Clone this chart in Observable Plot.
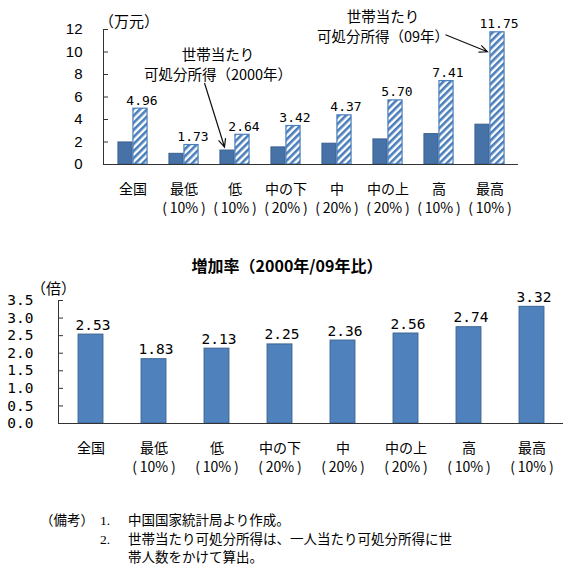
<!DOCTYPE html>
<html>
<head>
<meta charset="utf-8">
<script src="https://cdn.jsdelivr.net/npm/d3@7"></script>
<script src="https://cdn.jsdelivr.net/npm/@observablehq/plot@0.6"></script>
<style>
  body { margin: 0; background: #fff; font-family: "Noto Sans CJK JP", sans-serif; color: #000; }
  #page { position: relative; width: 574px; height: 575px; overflow: hidden; background: #fff; }
  .abs { position: absolute; white-space: nowrap; }
  .title { left: 0; width: 574px; text-align: center; font-size: 16px; font-weight: bold; line-height: 20px; }
  .unit { font-size: 15px; line-height: 18px; }
  .note { font-family: "Liberation Serif", "Noto Sans CJK JP", serif; font-size: 13.5px; line-height: 18px; }
</style>
</head>
<body>
<div id="page"></div>
<script>
// Income groups (quantile groups of urban households)
const categories = ["全国", "最低", "低", "中の下", "中", "中の上", "高", "最高"];
const shares = ["", "10%", "10%", "20%", "20%", "20%", "10%", "10%"];
// Disposable income per household, 10,000 yuan
const income2000 = [1.96, 0.95, 1.24, 1.52, 1.85, 2.23, 2.70, 3.54];
const income2009 = [4.96, 1.73, 2.64, 3.42, 4.37, 5.70, 7.41, 11.75];
// Growth ratio 2009 / 2000
const growth = [2.53, 1.83, 2.13, 2.25, 2.36, 2.56, 2.74, 3.32];
// Axis ticks
const incomeTicks = [0, 2, 4, 6, 8, 10, 12];
const growthTicks = [0, 0.5, 1, 1.5, 2, 2.5, 3, 3.5];

const rows = categories.map((category, i) => ({
  category,
  share: shares[i],
  y2000: income2000[i],
  y2009: income2009[i],
  growth: growth[i]
}));

const thin = "\u2009";
const groupLabel = c => {
  const s = shares[categories.indexOf(c)];
  return s ? `${c}\n(${thin}${s}${thin})` : c;
};

const page = document.getElementById("page");
const jp = '"Noto Sans CJK JP", sans-serif';
const mono = '"DejaVu Sans Mono", monospace';
const axisColor = "#333";

// ---------- Upper chart: household disposable income ----------
const W = 574;
const topMargins = {marginTop: 29, marginBottom: 56, marginLeft: 103, marginRight: 56};
const band = (W - topMargins.marginLeft - topMargins.marginRight) / categories.length;
const half = band / 2;
const barW = 15;

const upper = Plot.plot({
  width: W,
  height: 220,
  ...topMargins,
  style: {fontFamily: jp, background: "transparent", overflow: "visible", color: "#000"},
  x: {domain: categories, padding: 0, axis: null},
  y: {domain: [0, 12], axis: null},
  marks: [
    Plot.barY(rows, {x: "category", y: "y2000", fill: "#4672a8", stroke: "#3a5f8f", strokeWidth: 1,
      insetLeft: half - barW, insetRight: half}),
    Plot.barY(rows, {x: "category", y: "y2009", fill: "url(#hatch09)", stroke: "#4a7ebb", strokeWidth: 1.2,
      insetLeft: half, insetRight: half - barW}),
    Plot.text(rows, {x: "category", y: "y2009", text: d => d.y2009.toFixed(2), dx: 9, dy: -4,
      lineAnchor: "bottom", fontFamily: mono, fontSize: 13, fill: "#000"}),
    Plot.axisY(incomeTicks, {anchor: "left", tickSize: 0, tickPadding: 21, label: null,
      fontFamily: '"Liberation Sans", Arial, sans-serif', fontSize: 15, fill: "#000"}),
    Plot.axisY(incomeTicks, {anchor: "left", tickSize: 5, insetLeft: 5, label: null,
      tickFormat: () => "", stroke: axisColor}),
    Plot.frame({anchor: "left", stroke: axisColor}),
    Plot.ruleY([0], {stroke: axisColor, strokeWidth: 1.2}),
    Plot.axisX({anchor: "bottom", tickSize: 0, tickPadding: 15, label: null, tickFormat: groupLabel,
      fontFamily: jp, fontSize: 14, lineHeight: 1.42, fill: "#000"}),
    Plot.text(["世帯当たり\n可処分所得（2000年）"], {x: () => "低", y: () => 9.0, text: d => d, dx: -17,
      fontFamily: jp, fontSize: 14.5, lineHeight: 1.38, fill: "#000"}),
    Plot.text(["世帯当たり\n可処分所得（09年）"], {x: () => "中の上", y: () => 12.35, text: d => d, dx: -5,
      fontFamily: jp, fontSize: 14.5, lineHeight: 1.38, fill: "#000"})
  ]
});

// diagonal hatching for the 2009 bars
d3.select(upper).insert("defs", ":first-child").html(`
  <pattern id="hatch09" patternUnits="userSpaceOnUse" width="5" height="5" patternTransform="rotate(45)">
    <rect width="5" height="5" fill="#fff"></rect>
    <rect width="2.6" height="5" fill="#4a7ebb"></rect>
  </pattern>`);

// callout arrows, anchored on the bars they point at
function drawArrow(svg, x1, y1, x2, y2) {
  const a = Math.atan2(y2 - y1, x2 - x1), h = 9, w = 0.42;
  d3.select(svg).append("path")
    .attr("fill", "none").attr("stroke", "#111").attr("stroke-width", 1.2)
    .attr("d", `M${x1},${y1}L${x2},${y2}` +
      `M${x2 - h * Math.cos(a - w)},${y2 - h * Math.sin(a - w)}L${x2},${y2}` +
      `L${x2 - h * Math.cos(a + w)},${y2 - h * Math.sin(a + w)}`);
}
{
  const xs = upper.scale("x"), ys = upper.scale("y");
  const cx = c => xs.apply(c) + xs.bandwidth / 2;
  const iLow = categories.indexOf("低"), iTop = categories.indexOf("最高");
  const e1 = [cx("低") - 10, ys.apply(income2000[iLow]) - 3];
  drawArrow(upper, e1[0] - 20, e1[1] - 64, e1[0], e1[1]);
  const e2 = [cx("最高") - 2, ys.apply(income2009[iTop]) + 20];
  drawArrow(upper, e2[0] - 42, e2[1] - 17, e2[0], e2[1]);
}

upper.style.position = "absolute";
upper.style.left = "0px";
upper.style.top = "0px";
page.appendChild(upper);

const unit1 = document.createElement("div");
unit1.className = "abs unit";
unit1.style.left = "99px";
unit1.style.top = "12px";
unit1.textContent = "（万元）";
page.appendChild(unit1);

// ---------- Lower chart: growth ratio ----------
const title = document.createElement("div");
title.className = "abs title";
title.style.top = "255px";
title.textContent = "増加率（2000年/09年比）";
page.appendChild(title);

const lowMargins = {marginTop: 20, marginBottom: 57, marginLeft: 58, marginRight: 11};
const band2 = (W - lowMargins.marginLeft - lowMargins.marginRight) / categories.length;
const inset2 = (band2 - 25) / 2;

const lower = Plot.plot({
  width: W,
  height: 200,
  ...lowMargins,
  style: {fontFamily: jp, background: "transparent", overflow: "visible", color: "#000"},
  x: {domain: categories, padding: 0, axis: null},
  y: {domain: [0, 3.5], axis: null},
  marks: [
    Plot.barY(rows, {x: "category", y: "growth", fill: "#4f81bd", stroke: "#3b6491", strokeWidth: 1,
      insetLeft: inset2, insetRight: inset2}),
    Plot.text(rows, {x: "category", y: "growth", text: d => d.growth.toFixed(2), dx: 2, dy: -5,
      lineAnchor: "bottom", fontFamily: mono, fontSize: 14.5, fill: "#000"}),
    Plot.axisY(growthTicks, {anchor: "left", tickSize: 0, tickPadding: 25, label: null,
      tickFormat: d => d.toFixed(1), fontFamily: mono, fontSize: 14.5, fill: "#000"}),
    Plot.axisY(growthTicks, {anchor: "left", tickSize: 5, insetLeft: 5, label: null,
      tickFormat: () => "", stroke: axisColor}),
    Plot.frame({anchor: "left", stroke: axisColor}),
    Plot.ruleY([0], {stroke: axisColor, strokeWidth: 1.2}),
    Plot.axisX({anchor: "bottom", tickSize: 0, tickPadding: 15, label: null, tickFormat: groupLabel,
      fontFamily: jp, fontSize: 14, lineHeight: 1.42, fill: "#000"})
  ]
});
lower.style.position = "absolute";
lower.style.left = "0px";
lower.style.top = "280px";
page.appendChild(lower);

const unit2 = document.createElement("div");
unit2.className = "abs unit";
unit2.style.left = "31px";
unit2.style.top = "279px";
unit2.textContent = "（倍）";
page.appendChild(unit2);

// ---------- Notes ----------
const notes = [
  [40, 512, "（備考）"],
  [100, 512, "1."],
  [128, 512, "中国国家統計局より作成。"],
  [100, 531, "2."],
  [128, 531, "世帯当たり可処分所得は、一人当たり可処分所得に世"],
  [128, 549, "帯人数をかけて算出。"]
];
for (const [left, top, text] of notes) {
  const d = document.createElement("div");
  d.className = "abs note";
  d.style.left = left + "px";
  d.style.top = top + "px";
  d.textContent = text;
  page.appendChild(d);
}
</script>
</body>
</html>
